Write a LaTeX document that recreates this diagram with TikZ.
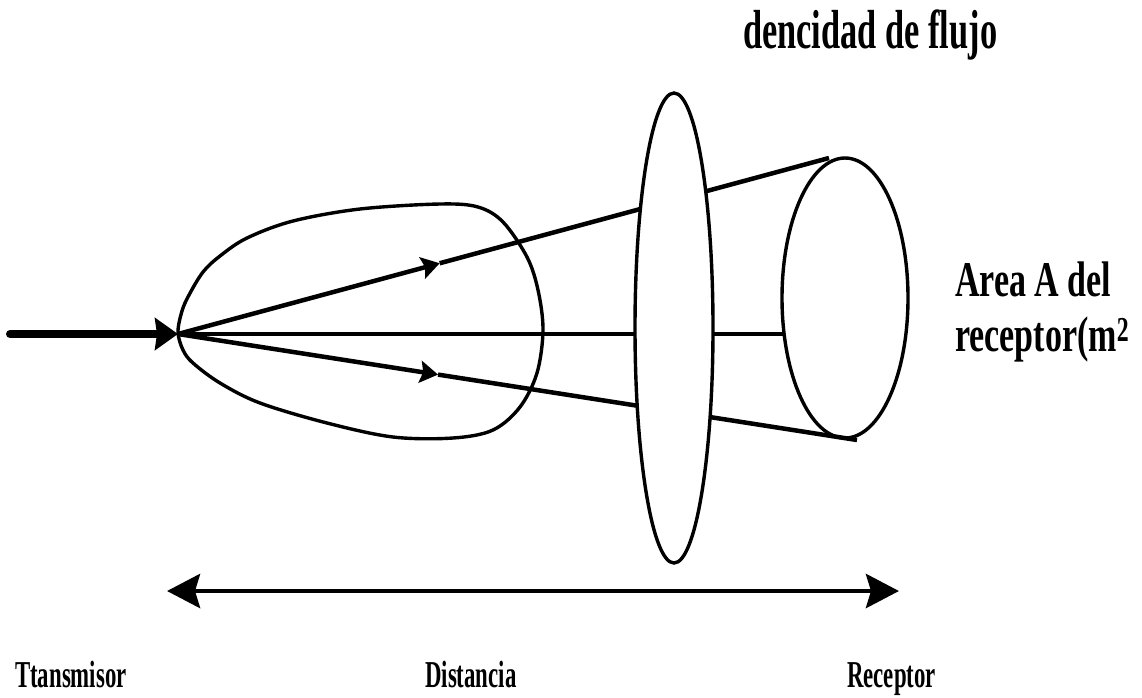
\documentclass[tikz,border=0pt]{standalone}
\usepackage{fontspec}
\setmainfont{Liberation Serif}
\usepackage{graphicx}
\usetikzlibrary{arrows.meta,calc}
\begin{document}
\begin{tikzpicture}[x=1pt,y=-1pt,
  ray/.style={line width=4.5pt},
  outline/.style={line width=3.4pt},
  midtip/.style={-{Stealth[length=18pt,width=22pt,inset=3pt]}},
  bigtip/.style={line width=8pt,line cap=round,-{Stealth[length=23pt,width=32pt,inset=2pt]}},
  dtip/.tip={Stealth[length=33pt,width=34pt,inset=5pt]},
  biglbl/.style={inner sep=0pt,anchor=base west,font=\fontsize{55}{49}\selectfont\bfseries},
  arealbl/.style={inner sep=0pt,anchor=base west,font=\fontsize{50}{55}\selectfont\bfseries},
  smalllbl/.style={inner sep=0pt,anchor=base west,font=\fontsize{38}{42}\selectfont\bfseries},
]
\useasboundingbox (0,0) rectangle (1142,697);
\coordinate (src) at (10,334);
\coordinate (apex) at (178,334);
\coordinate (uend) at (829,158);
\coordinate (lend) at (857,440);
\coordinate (mend) at (785,334);
\coordinate (um) at ($(apex)!0.402!(uend)$);
\coordinate (lm) at ($(apex)!0.383!(lend)$);
\coordinate (dl) at (167,591);
\coordinate (dr) at (899,591);

% radiation lobe
\draw[outline] plot[smooth cycle, tension=0.55] coordinates {
  (178,332) (182,311) (189,295) (203,272) (220,256) (247,238) (293,221)
  (360,209) (440,204) (478,207) (503,222) (527,257) (538,290) (543,330)
  (537,373) (520,407) (493,430) (453,438) (393,437) (327,423) (260,403)
  (220,383) (193,363) (183,350)};

% rays
\draw[ray,midtip] (apex) -- (um);
\draw[ray] (um) -- (uend);
\draw[ray,midtip] (apex) -- (lm);
\draw[ray] (lm) -- (lend);
\draw[line width=3.4pt] (apex) -- (mend);

% flux-density surface
\draw[outline,fill=white] (674,328) ellipse [x radius=39pt, y radius=235pt];
% receiver area
\draw[outline] (845,298) ellipse [x radius=63pt, y radius=140pt];

% incoming thick arrow
\draw[bigtip] (src) -- (apex);

% distance arrow
\draw[line width=4.8pt,{dtip}-{dtip}] (dl) -- (dr);

% labels
\node[biglbl] (flux) at (743,48) {\scalebox{0.625}[1]{dencidad de flujo}};
\node[arealbl,align=left] (area) at (955,351)
  {\scalebox{0.68}[1]{Area A del}\\\scalebox{0.68}[1]{receptor(m\textsuperscript{2}}};
\node[smalllbl] (tx) at (15,687) {\scalebox{0.6}[1]{Ttansmisor}};
\node[smalllbl] (dist) at (425,687) {\scalebox{0.6}[1]{Distancia}};
\node[smalllbl] (rx) at (847,687) {\scalebox{0.6}[1]{Receptor}};
\end{tikzpicture}
\end{document}
